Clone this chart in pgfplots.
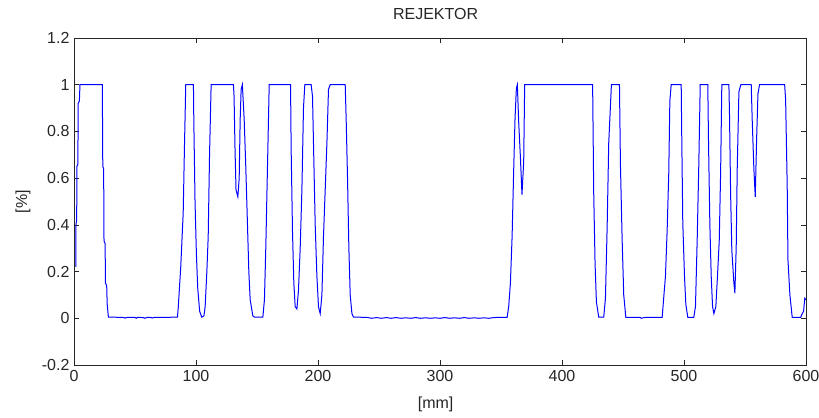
\documentclass[border=0pt]{standalone}
\usepackage{fontspec}
\setmainfont{Liberation Sans}
\usepackage{pgfplots}
\pgfplotsset{compat=1.18}
\begin{document}
\begin{tikzpicture}
\begin{axis}[name=ax, scale only axis, width=732pt, height=327pt,
  xmin=0, xmax=600, ymin=-0.2, ymax=1.2,
  xtick={0,100,200,300,400,500,600},
  xticklabels={0,100,200,300,400,500,600},
  ytick={-0.2,0,0.2,0.4,0.6,0.8,1,1.2},
  yticklabels={-0.2,0,0.2,0.4,0.6,0.8,1,1.2},
  tick align=inside, major tick length=5pt,
  axis line style={black!85, line width=0.7pt},
  every tick/.style={black!85, line width=0.7pt},
  tick label style={font=\fontsize{16}{18}\selectfont, black!85},
  xticklabel style={yshift=-2pt},
  yticklabel style={xshift=-1pt},
  title={REJEKTOR},
  title style={at={(axis description cs:0.494,1)}, anchor=base, yshift=12pt, font=\fontsize{16}{18}\selectfont, black!85},
  xlabel={[mm]},
  xlabel style={at={(axis description cs:0.494,0)}, anchor=base, yshift=-43pt, font=\fontsize{16}{18}\selectfont, black!85},
  ylabel={[\%]},
  ylabel style={at={(axis description cs:-0.064,0.5)}, anchor=base, font=\fontsize{16}{18}\selectfont, black!85},
]
\addplot[blue, line width=1pt] coordinates {
(1.5,0.22) (1.6,0.40) (2.2,0.42) (2.4,0.65) (3.2,0.66) (3.4,0.92) (4.4,0.93) (4.9,1.0)
(23.2,1.0) (23.6,0.65) (24.3,0.64) (24.6,0.33) (25.5,0.32) (25.8,0.15) (26.8,0.14) (27.2,0.06) (28.2,0.005)
(40,0.004) (42,0.001) (44,0.004) (50,0.004) (51,0.0) (52,0.004) (57,0.003) (58,0.0) (60,0.004)
(63,0.004) (64,0.001) (66,0.004) (75,0.004)
(84.8,0.005) (85.5,0.05) (87.5,0.22) (89.5,0.45) (90.6,0.75) (91.6,1.0)
(97.9,1.0) (98.2,0.85) (99.2,0.5) (100.3,0.28) (101.4,0.13) (103,0.03) (104.7,0.005) (106.5,0.01)
(107.5,0.05) (108.9,0.2) (110,0.35) (111.1,0.7) (112.4,1.0)
(130.7,1.0) (131.2,0.95) (132,0.72) (132.8,0.55) (134.3,0.52) (135.4,0.6) (136.2,0.85) (137,0.98) (138,1.0)
(139.5,0.85) (140.8,0.65) (142.2,0.4) (143.3,0.2) (144.4,0.08) (146.6,0.01) (148,0.005)
(154.8,0.005) (156.1,0.08) (157.2,0.3) (158.6,0.65) (160,1.0)
(177.5,1.0) (178,0.72) (179.1,0.37) (180.2,0.15) (181.3,0.05) (182.7,0.04)
(184,0.12) (185.4,0.3) (186.8,0.55) (188.1,0.9) (189.2,1.0)
(194.4,1.0) (195.5,0.95) (196.3,0.75) (197.7,0.4) (199.1,0.18) (200.4,0.05) (201.8,0.02)
(203.2,0.1) (204.5,0.35) (205.9,0.55) (207.3,0.75) (208.6,0.98) (210,1.0)
(222.3,1.0) (223.1,0.85) (224.2,0.6) (225.3,0.3) (226.4,0.1) (227.8,0.02) (229.1,0.005)
(240,0.004) (244,0.0) (248,0.003) (252,0.0) (256,0.003) (260,0.0) (264,0.003) (268,0.0)
(272,0.002) (276,0.0) (280,0.003) (284,0.0) (288,0.002) (292,0.0) (296,0.002) (300,0.0)
(304,0.003) (308,0.0) (312,0.002) (316,0.0) (320,0.003) (324,0.0) (328,0.002) (332,0.0)
(336,0.002) (340,0.0) (344,0.003) (348,0.004)
(355,0.004) (356.3,0.05) (357.7,0.15) (359.1,0.35) (360.4,0.635) (361.5,0.856) (362.6,0.985) (363.4,1.0)
(364.5,0.84) (365.9,0.69) (367.2,0.53) (368.6,0.67) (369.4,1.0)
(425.1,1.0) (426,0.535) (427.1,0.235) (428.2,0.07) (430.1,0.005) (434.2,0.005)
(435.6,0.085) (437,0.39) (438.3,0.75) (440.5,1.0)
(447.1,1.0) (447.9,0.656) (449.3,0.335) (450.6,0.1) (452.3,0.004)
(464,0.004) (465,0.0) (468,0.004)
(482.1,0.004) (483.4,0.09) (484.8,0.18) (486.2,0.38) (487.5,0.62) (488.4,0.93) (489.5,1.0)
(497.7,1.0) (498.2,0.756) (499,0.41) (500.4,0.18) (501.5,0.06) (503.1,0.004) (508,0.004)
(509.4,0.05) (510.8,0.335) (512.1,0.65) (513.3,1.0)
(519.5,1.0) (520.1,0.75) (521.2,0.4) (522.3,0.18) (523.4,0.05) (524.5,0.02)
(526.1,0.05) (527.7,0.207) (528.9,0.335) (530,0.62) (531,1.0)
(536.8,1.0) (537.3,0.87) (538.2,0.535) (539.2,0.29) (540.9,0.15) (541.7,0.107)
(542.8,0.307) (543.6,0.635) (545,0.97) (546.6,1.0)
(555.1,1.0) (555.9,0.85) (557.3,0.635) (558.4,0.52) (559.5,0.763) (560.6,0.96) (561.9,1.0)
(582.5,1.0) (583.3,0.935) (584.6,0.563) (585.2,0.25) (586.8,0.1) (588.7,0.004) (595.6,0.004)
(596.9,0.02) (598,0.03) (599,0.086) (600,0.08)
};
\end{axis}
\pgfresetboundingbox
\path ([shift={(-74pt,-52pt)}]ax.south west) rectangle ([shift={(13pt,38pt)}]ax.north east);
\end{tikzpicture}
\end{document}
